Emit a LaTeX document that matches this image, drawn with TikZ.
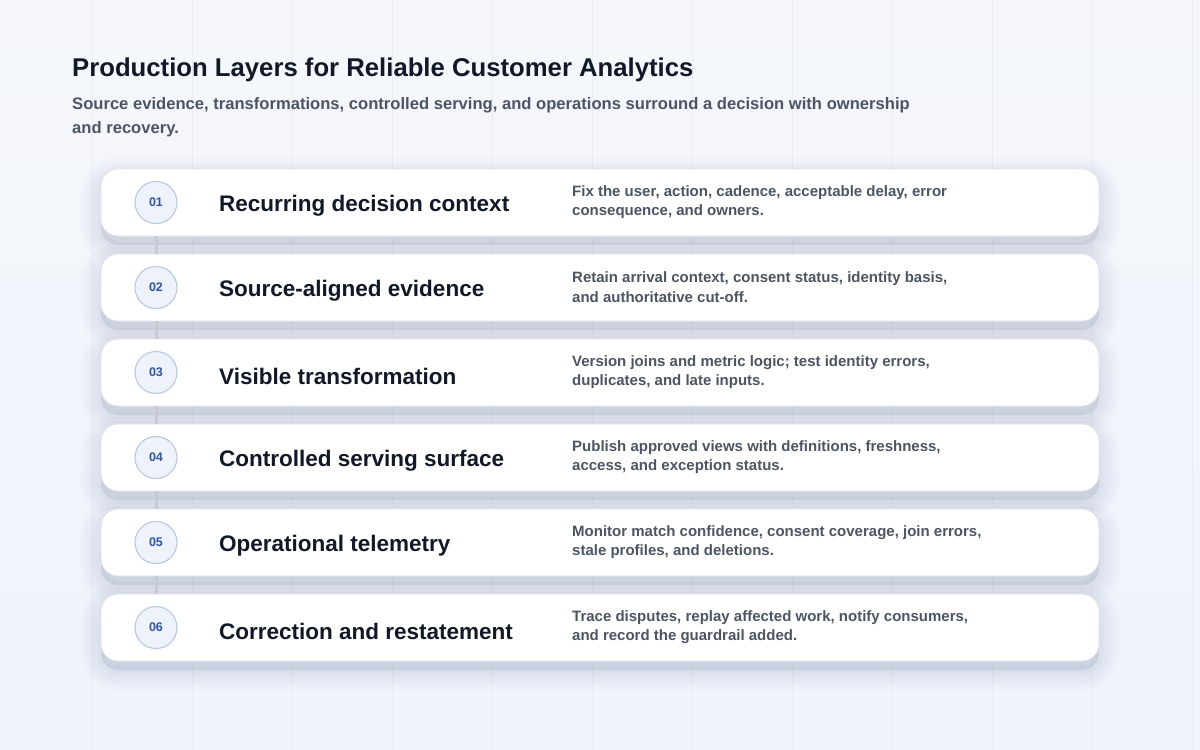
\documentclass[tikz,border=0pt]{standalone}
\usepackage{fontspec}
\setmainfont{Liberation Sans}

\definecolor{bgtop}{HTML}{F5F7FB}
\definecolor{bgbot}{HTML}{EEF3FC}
\definecolor{gridline}{HTML}{E9EDF3}
\definecolor{inkdark}{HTML}{111827}
\definecolor{inkgrey}{HTML}{4B5563}
\definecolor{boxline}{HTML}{DDE2EA}
\definecolor{numfill}{HTML}{EEF3FB}
\definecolor{numline}{HTML}{B7C8E8}
\definecolor{numink}{HTML}{2F55A4}
\definecolor{linkgrey}{HTML}{C6CAD2}
\definecolor{shadowc}{HTML}{4A5A88}

\tikzset{
  softshadow/.style 2 args={preaction={draw=shadowc, fill=shadowc, line width=#1, opacity=#2,
    transform canvas={yshift=-9pt}}},
  layerbox/.style={draw=boxline, line width=0.8pt, fill=white, rounded corners=17pt,
    minimum width=998pt, minimum height=67pt, inner sep=0pt,
    softshadow={40pt}{0.02}, softshadow={32pt}{0.022}, softshadow={24pt}{0.024},
    softshadow={16pt}{0.024}, softshadow={8pt}{0.022}},
  layernum/.style={circle, draw=numline, line width=1.1pt, fill=numfill, minimum size=42pt,
    inner sep=0pt, text=numink, font=\fontsize{12.5}{14}\selectfont\bfseries},
  layertitle/.style={anchor=west, inner sep=0pt, text=inkdark, font=\fontsize{22.5}{26}\selectfont\bfseries},
  layertext/.style={anchor=west, inner sep=0pt, align=left, text=inkgrey,
    font=\fontsize{15}{19.5}\selectfont\bfseries},
  link/.style={linkgrey, line width=3pt}
}

\begin{document}
\begin{tikzpicture}[x=1pt, y=-1pt]
\useasboundingbox (0,0) rectangle (1200,750);
\clip (0,0) rectangle (1200,750);
\shade[top color=bgtop, bottom color=bgbot] (0,0) rectangle (1200,750);
\draw[gridline, line width=0.5pt, xshift=-8pt, yshift=-20pt] (0,-100) grid[step=100] (1300,800);

% heading
\node[anchor=west, inner sep=0pt, text=inkdark, font=\fontsize{25.7}{30}\selectfont\bfseries] (title) at (72,70) {Production Layers for Reliable Customer Analytics};
\node[anchor=north west, inner sep=0pt, align=left, text=inkgrey, font=\fontsize{16.6}{24}\selectfont\bfseries] (subtitle) at (72,97)
  {Source evidence, transformations, controlled serving, and operations surround a decision with ownership\\and recovery.};

% layers
\node[layerbox] (box1) at (600,202.5) {};
\node[layerbox] (box2) at (600,287.5) {};
\node[layerbox] (box3) at (600,372.5) {};
\node[layerbox] (box4) at (600,457.5) {};
\node[layerbox] (box5) at (600,542.5) {};
\node[layerbox] (box6) at (600,627.5) {};

\node[layernum] (num1) at (156,202.5) {01};
\node[layernum] (num2) at (156,287.5) {02};
\node[layernum] (num3) at (156,372.5) {03};
\node[layernum] (num4) at (156,457.5) {04};
\node[layernum] (num5) at (156,542.5) {05};
\node[layernum] (num6) at (156,627.5) {06};

\node[layertitle] (head1) at (219,206) {Recurring decision context};
\node[layertitle] (head2) at (219,291) {Source-aligned evidence};
\node[layertitle] (head3) at (219,376) {Visible transformation};
\node[layertitle] (head4) at (219,461) {Controlled serving surface};
\node[layertitle] (head5) at (219,546) {Operational telemetry};
\node[layertitle] (head6) at (219,631) {Correction and restatement};

\node[layertext] (note1) at (572,202) {Fix the user, action, cadence, acceptable delay, error\\consequence, and owners.};
\node[layertext] (note2) at (572,287) {Retain arrival context, consent status, identity basis,\\and authoritative cut-off.};
\node[layertext] (note3) at (572,372) {Version joins and metric logic; test identity errors,\\duplicates, and late inputs.};
\node[layertext] (note4) at (572,457) {Publish approved views with definitions, freshness,\\access, and exception status.};
\node[layertext] (note5) at (572,542) {Monitor match confidence, consent coverage, join errors,\\stale profiles, and deletions.};
\node[layertext] (note6) at (572,627) {Trace disputes, replay affected work, notify consumers,\\and record the guardrail added.};

% links between layers
\draw[link] (box1.south -| num1) -- (box2.north -| num2);
\draw[link] (box2.south -| num2) -- (box3.north -| num3);
\draw[link] (box3.south -| num3) -- (box4.north -| num4);
\draw[link] (box4.south -| num4) -- (box5.north -| num5);
\draw[link] (box5.south -| num5) -- (box6.north -| num6);

\end{tikzpicture}
\end{document}
